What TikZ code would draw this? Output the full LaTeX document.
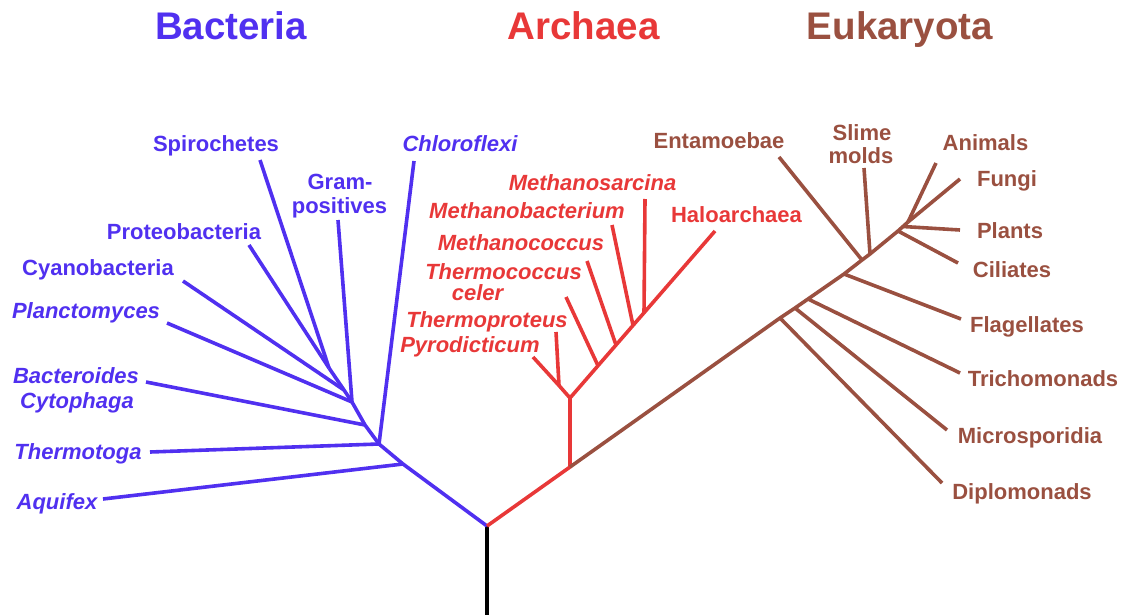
\documentclass[tikz,border=0pt]{standalone}
\usepackage{fontspec}
\setmainfont{Liberation Sans}
\definecolor{bact}{HTML}{5030F0}
\definecolor{arch}{HTML}{E83838}
\definecolor{euk}{HTML}{9A5040}
\begin{document}
\begin{tikzpicture}[x=1pt,y=-1pt,
  br/.style={line width=3.6pt,line join=round},
  lbl/.style={anchor=base,inner sep=0pt,font=\fontsize{22}{25}\selectfont\bfseries},
  ilbl/.style={lbl,font=\fontsize{22}{25}\selectfont\bfseries\itshape},
  ttl/.style={anchor=base,inner sep=0pt,font=\fontsize{38.5}{42}\selectfont\bfseries}]
\useasboundingbox (0,0) rectangle (1123,615);
% titles
\node[ttl,text=bact] (tB) at (231,39.5) {Bacteria};
\node[ttl,text=arch] (tA) at (583.5,39.5) {Archaea};
\node[ttl,text=euk] (tE) at (900,39.5) {Eukaryota};
% root
\coordinate (R) at (487,526);
\coordinate (Rb) at (487,615);
\draw[line width=3.6pt,black] (R) -- (Rb);
% ---------- Bacteria ----------
\coordinate (B1) at (403,464);
\coordinate (B2) at (379,444);
\coordinate (B3) at (365,425);
\coordinate (B4) at (352,402);
\coordinate (B5) at (344,390);
\coordinate (B6) at (329,368);
\coordinate (eAq) at (103,499);
\coordinate (eTh) at (150,452);
\coordinate (eBa) at (146,382);
\coordinate (ePl) at (167,323);
\coordinate (eCy) at (183,281);
\coordinate (ePr) at (249,245);
\coordinate (eSp) at (260,160);
\coordinate (eGr) at (338,220);
\coordinate (eCh) at (414,161);
\begin{scope}[bact]
\draw[br] (R) -- (B1) -- (B2) -- (B3) -- (B4) -- (B5) -- (B6);
\draw[br] (B1) -- (eAq);
\draw[br] (B2) -- (eTh);
\draw[br] (B2) -- (eCh);
\draw[br] (B3) -- (eBa);
\draw[br] (B4) -- (ePl);
\draw[br] (B4) -- (eGr);
\draw[br] (B5) -- (eCy);
\draw[br] (B6) -- (ePr);
\draw[br] (B6) -- (eSp);
\end{scope}
\node[lbl,text=bact] (lSp) at (216,151) {Spirochetes};
\node[lbl,text=bact] (lGr1) at (340,189) {Gram-};
\node[lbl,text=bact] (lGr2) at (339.5,213) {positives};
\node[ilbl,text=bact] (lCh) at (460,151) {Chloroflexi};
\node[lbl,text=bact] (lPr) at (184,239) {Proteobacteria};
\node[lbl,text=bact] (lCy) at (98,275) {Cyanobacteria};
\node[ilbl,text=bact] (lPl) at (86,318) {Planctomyces};
\node[ilbl,text=bact] (lBa) at (76,383) {Bacteroides};
\node[ilbl,text=bact] (lCt) at (77,408) {Cytophaga};
\node[ilbl,text=bact] (lTh) at (78,459) {Thermotoga};
\node[ilbl,text=bact] (lAq) at (57,509) {Aquifex};
% ---------- Archaea ----------
\coordinate (A0) at (570,467);
\coordinate (P0) at (570,398);
\coordinate (Pt) at (559,385.5);
\coordinate (Ptc) at (598,365.7);
\coordinate (Pmc) at (616,345);
\coordinate (Pmb) at (633,325.4);
\coordinate (Pms) at (644,312.8);
\coordinate (ePy) at (533,357);
\coordinate (eTp) at (556,332);
\coordinate (eTc) at (566,297);
\coordinate (eMc) at (587,261);
\coordinate (eMb) at (612,225);
\coordinate (eMs) at (645,199);
\coordinate (eHa) at (715,231);
\begin{scope}[arch]
\draw[br] (R) -- (A0) -- (P0);
\draw[br] (P0) -- (Pt) -- (ePy);
\draw[br] (Pt) -- (eTp);
\draw[br] (P0) -- (Ptc) -- (Pmc) -- (Pmb) -- (Pms) -- (eHa);
\draw[br] (Ptc) -- (eTc);
\draw[br] (Pmc) -- (eMc);
\draw[br] (Pmb) -- (eMb);
\draw[br] (Pms) -- (eMs);
\end{scope}
\node[ilbl,text=arch] (lMs) at (592.5,190) {Methanosarcina};
\node[ilbl,text=arch] (lMb) at (527,218) {Methanobacterium};
\node[lbl,text=arch] (lHa) at (736.5,222) {Haloarchaea};
\node[ilbl,text=arch] (lMc) at (521,250) {Methanococcus};
\node[ilbl,text=arch,text depth=0pt] (lTc1) at (503.5,279.5) {Thermococcus};
\node[ilbl,text=arch,text height=15pt] (lTc2) at (477.5,300) {celer};
\node[ilbl,text=arch] (lTp) at (487,327) {Thermoproteus};
\node[ilbl,text=arch] (lPy) at (470,352) {Pyrodicticum};
% ---------- Eukaryota ----------
\coordinate (Ed) at (780,318);
\coordinate (Em) at (795,308);
\coordinate (Et) at (808,299);
\coordinate (Ef) at (844,274);
\coordinate (Ee) at (862,260);
\coordinate (Es) at (870,254);
\coordinate (Ec) at (898,231);
\coordinate (Ep) at (903,226.5);
\coordinate (Etop) at (908,222);
\coordinate (eDi) at (942,483);
\coordinate (eMi) at (947,430);
\coordinate (eTr) at (960,373);
\coordinate (eFl) at (961,319);
\coordinate (eEn) at (779,157);
\coordinate (eSl) at (864,168);
\coordinate (eCi) at (958,263);
\coordinate (ePa) at (960,230);
\coordinate (eFu) at (960,179);
\coordinate (eAn) at (936,163);
\begin{scope}[euk]
\draw[br] (A0) -- (Ed) -- (Em) -- (Et) -- (Ef) -- (Ee) -- (Es) -- (Ec) -- (Ep) -- (Etop);
\draw[br] (Ed) -- (eDi);
\draw[br] (Em) -- (eMi);
\draw[br] (Et) -- (eTr);
\draw[br] (Ef) -- (eFl);
\draw[br] (Ee) -- (eEn);
\draw[br] (Es) -- (eSl);
\draw[br] (Ec) -- (eCi);
\draw[br] (Ep) -- (ePa);
\draw[br] (Etop) -- (eFu);
\draw[br] (Etop) -- (eAn);
\end{scope}
\node[lbl,text=euk] (lEn) at (719,148) {Entamoebae};
\node[lbl,text=euk] (lSl1) at (862,140) {Slime};
\node[lbl,text=euk] (lSl2) at (861,163) {molds};
\node[lbl,text=euk] (lAn) at (985.5,150) {Animals};
\node[lbl,text=euk] (lFu) at (1007,186) {Fungi};
\node[lbl,text=euk] (lPa) at (1010,238) {Plants};
\node[lbl,text=euk] (lCi) at (1012,277) {Ciliates};
\node[lbl,text=euk] (lFl) at (1027,332) {Flagellates};
\node[lbl,text=euk] (lTr) at (1043,386) {Trichomonads};
\node[lbl,text=euk] (lMi) at (1030,443) {Microsporidia};
\node[lbl,text=euk] (lDi) at (1022,499) {Diplomonads};
\end{tikzpicture}
\end{document}
